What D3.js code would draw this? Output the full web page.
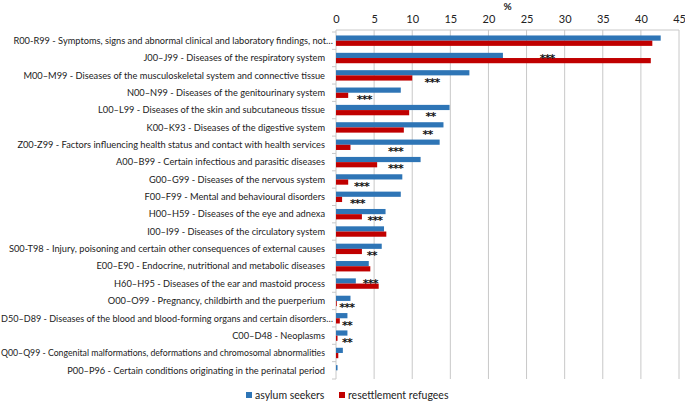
<!DOCTYPE html>
<html><head><meta charset="utf-8">
<script src="https://cdn.jsdelivr.net/npm/d3@7/dist/d3.min.js"></script>
<style>body{margin:0;background:#fff}svg{display:block}</style>
</head><body>
<svg id="chart" width="685" height="402"></svg>
<script>
const categories = [
  "R00-R99 - Symptoms, signs and abnormal clinical and laboratory findings, not…",
  "J00–J99 - Diseases of the respiratory system",
  "M00–M99 - Diseases of the musculoskeletal system and connective tissue",
  "N00–N99 - Diseases of the genitourinary system",
  "L00–L99 - Diseases of the skin and subcutaneous tissue",
  "K00–K93 - Diseases of the digestive system",
  "Z00-Z99 - Factors influencing health status and contact with health services",
  "A00–B99 - Certain infectious and parasitic diseases",
  "G00–G99 - Diseases of the nervous system",
  "F00–F99 - Mental and behavioural disorders",
  "H00–H59 - Diseases of the eye and adnexa",
  "I00–I99 - Diseases of the circulatory system",
  "S00-T98 - Injury, poisoning and certain other consequences of external causes",
  "E00–E90 - Endocrine, nutritional and metabolic diseases",
  "H60–H95 - Diseases of the ear and mastoid process",
  "O00–O99 - Pregnancy, childbirth and the puerperium",
  "D50–D89 - Diseases of the blood and blood-forming organs and certain disorders…",
  "C00–D48 - Neoplasms",
  "Q00–Q99 - Congenital malformations, deformations and chromosomal abnormalities",
  "P00–P96 - Certain conditions originating in the perinatal period"
];
const asylumSeekers = [42.6, 21.9, 17.5, 8.5, 14.9, 14.1, 13.6, 11.1, 8.7, 8.5, 6.5, 6.3, 6.0, 4.3, 2.6, 1.9, 1.5, 1.5, 0.9, 0.2];
const resettlementRefugees = [41.5, 41.3, 10.0, 1.6, 9.6, 8.9, 1.9, 5.4, 1.6, 0.8, 3.4, 6.6, 3.4, 4.5, 5.6, 0.1, 0.5, 0.2, 0.3, 0.0];
const seriesNames = ["asylum seekers", "resettlement refugees"];
const seriesColors = ["#2e75b6", "#c00000"];
const xTicks = [0, 5, 10, 15, 20, 25, 30, 35, 40, 45];
const axisTitle = "%";
// significance markers: category index, marker, x (in %), series row
const sigIndex  = [1, 2, 3, 4, 5, 6, 7, 8, 9, 10, 12, 14, 15, 16, 17];
const sigText   = ["***", "***", "***", "**", "**", "***", "***", "***", "***", "***", "**", "***", "***", "**", "**"];
const sigX      = [27.7, 12.6, 3.7, 12.4, 12.0, 7.8, 7.8, 3.35, 2.8, 5.1, 4.7, 4.5, 1.4, 1.45, 1.45];
const sigSeries = [0, 1, 1, 1, 1, 1, 1, 1, 1, 1, 1, 0, 1, 1, 1];

const svg = d3.select("#chart");
const font = "Lato, 'Open Sans', sans-serif";
const x = d3.scaleLinear().domain([0, 45]).range([336, 679]);
const y = d3.scaleBand().domain(categories).range([32, 379]).paddingInner(0.4).paddingOuter(0.2);
const sub = d3.scaleBand().domain([0, 1]).range([0, y.bandwidth()]);
const plotTop = 30, plotBottom = 379;

// gridlines
svg.append("g").selectAll("line").data(xTicks).join("line")
  .attr("x1", d => x(d)).attr("x2", d => x(d))
  .attr("y1", plotTop).attr("y2", plotBottom)
  .attr("stroke", "#c8c8c8").attr("stroke-width", 1);
svg.append("line").attr("x1", x(0)).attr("x2", x(45)).attr("y1", plotTop).attr("y2", plotTop)
  .attr("stroke", "#c8c8c8");

// left axis ticks at band boundaries
const step = y.step();
const bounds = d3.range(categories.length + 1).map(i => y.range()[0] + i * step);
svg.append("g").selectAll("line").data(bounds).join("line")
  .attr("x1", x(0) - 4).attr("x2", x(0))
  .attr("y1", d => d).attr("y2", d => d)
  .attr("stroke", "#c8c8c8");

// top axis
const ax = svg.append("g").attr("transform", `translate(0,${plotTop})`)
  .call(d3.axisTop(x).tickValues(xTicks).tickSize(0).tickPadding(7));
ax.select(".domain").remove();
ax.selectAll("text").attr("font-family", font).attr("font-size", 11).attr("fill", "#222");
svg.append("text").attr("x", (x(0) + x(45)) / 2).attr("y", 10).attr("text-anchor", "middle")
  .attr("font-family", font).attr("font-size", 10).attr("font-weight", "bold").attr("fill", "#222")
  .text(axisTitle);

// category labels
const labelRight = d => d.endsWith("…") ? 333 : 325;
const labels = svg.append("g").selectAll("text").data(categories).join("text")
  .attr("x", labelRight).attr("y", d => y(d) + y.bandwidth() / 2)
  .attr("dy", "0.35em").attr("text-anchor", "end")
  .attr("font-family", font).attr("font-size", 9.5).attr("fill", "#222")
  .text(d => d);
// fit label font size so the Z00 label spans ~308px
const ref = labels.filter((d, i) => i === 6).node();
const w = ref.getComputedTextLength();
labels.attr("font-size", 9.5 * 308 / w);
// squeeze any label that would run past the left edge
labels.each(function (d) {
  const avail = labelRight(d) - 1;
  if (this.getComputedTextLength() > avail) {
    d3.select(this).attr("textLength", avail).attr("lengthAdjust", "spacingAndGlyphs");
  }
});

// bars
const series = [asylumSeekers, resettlementRefugees];
series.forEach((vals, s) => {
  svg.append("g").selectAll("rect").data(vals).join("rect")
    .attr("x", x(0))
    .attr("y", (d, i) => y(categories[i]) + sub(s))
    .attr("width", d => x(d) - x(0))
    .attr("height", sub.bandwidth())
    .attr("fill", seriesColors[s]);
});

// significance markers
svg.append("g").selectAll("text").data(sigIndex).join("text")
  .attr("x", (d, i) => x(sigX[i]))
  .attr("y", (d, i) => y(categories[d]) + sub(sigSeries[i]) + sub.bandwidth() / 2 + (sigSeries[i] ? 1.5 : 0))
  .attr("dy", "0.56em").attr("text-anchor", "middle")
  .attr("font-family", "'DejaVu Sans', sans-serif").attr("font-size", 11).attr("font-weight", "bold")
  .attr("letter-spacing", "-0.8px").attr("fill", "#111")
  .text((d, i) => sigText[i]);

// legend
const legend = svg.append("g");
const legX = [246, 339];
seriesNames.forEach((n, i) => {
  legend.append("rect").attr("x", legX[i]).attr("y", 392).attr("width", 6).attr("height", 6).attr("fill", seriesColors[i]);
  legend.append("text").attr("x", legX[i] + 9).attr("y", 399).attr("font-family", font).attr("font-size", 10.5)
    .attr("fill", "#222").text(n);
});
</script>
</body></html>
